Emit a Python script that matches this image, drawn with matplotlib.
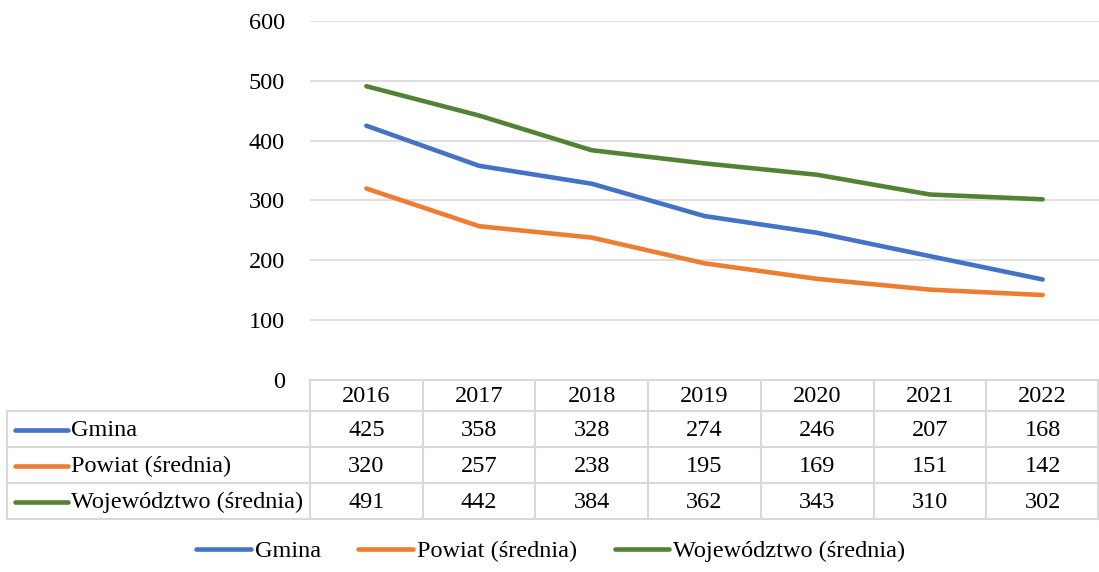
import matplotlib
matplotlib.use('Agg')
import matplotlib.pyplot as plt
from matplotlib.lines import Line2D

plt.rcParams['font.family'] = ['Liberation Serif', 'DejaVu Serif']

years = ['2016', '2017', '2018', '2019', '2020', '2021', '2022']
gmina = [425, 358, 328, 274, 246, 207, 168]
powiat = [320, 257, 238, 195, 169, 151, 142]
wojew = [491, 442, 384, 362, 343, 310, 302]
names = ['Gmina', 'Powiat (średnia)', 'Województwo (średnia)']
colors = ['#4472C4', '#ED7D31', '#548235']
series = [gmina, powiat, wojew]

W, H = 1099, 572
fs = 17.5
lw = 3.3
grid_c = '#D9D9D9'

fig = plt.figure(figsize=(W / 100, H / 100), dpi=100)

# plot area (pixel layout of the original)
x0, x1, ytop, ybot = 310, 1099, 21, 380
ax = fig.add_axes([x0 / W, 1 - ybot / H, (x1 - x0) / W, (ybot - ytop) / H])
xs = range(len(years))
for vals, c in zip(series, colors):
    ax.plot(xs, vals, color=c, lw=lw, solid_capstyle='round')
ax.set_xlim(-0.5, len(years) - 0.5)
ax.set_ylim(0, 600)
ax.set_yticks(range(0, 601, 100))
ax.yaxis.grid(True, color=grid_c, lw=1.2)
ax.set_axisbelow(True)
ax.set_xticks([])
ax.tick_params(axis='y', length=0, pad=18, labelsize=fs)
for s in ax.spines.values():
    s.set_visible(False)

# data table drawn in pixel coordinates
tax = fig.add_axes([0, 0, 1, 1])
tax.set_xlim(0, W)
tax.set_ylim(H, 0)
tax.axis('off')
colw = (x1 - x0) / len(years)
row_h = 36
head_top, head_bot = 380, 411
tleft = 7
rows_top = [head_bot + i * row_h for i in range(len(series))]
tbot = head_bot + len(series) * row_h
lk = dict(color=grid_c, lw=1.5)

tax.plot([x0, x1 - 1], [head_top, head_top], **lk)
for yt in rows_top + [tbot]:
    tax.plot([tleft, x1 - 1], [yt, yt], **lk)
for i in range(len(years) + 1):
    xv = min(x0 + i * colw, x1 - 1)
    tax.plot([xv, xv], [head_top, tbot], **lk)
tax.plot([tleft, tleft], [head_bot, tbot], **lk)

for i, yr in enumerate(years):
    tax.text(x0 + (i + 0.5) * colw, (head_top + head_bot) / 2 + 1, yr,
             ha='center', va='center', fontsize=fs)
for r, (vals, name, c) in enumerate(zip(series, names, colors)):
    yc = rows_top[r] + row_h / 2 + 1
    tax.plot([15, 68], [yc, yc], color=c, lw=lw, solid_capstyle='round')
    tax.text(71, yc, name, ha='left', va='center', fontsize=fs)
    for i, v in enumerate(vals):
        tax.text(x0 + (i + 0.5) * colw, yc, str(v), ha='center', va='center', fontsize=fs)

# legend at bottom
handles = [Line2D([], [], color=c, lw=lw, solid_capstyle='round') for c in colors]
fig.legend(handles, names, loc='center', bbox_to_anchor=(0.501, 1 - 551 / H), ncol=3,
           frameon=False, fontsize=fs, handlelength=2.25, handletextpad=0.15,
           columnspacing=1.55)

fig.savefig('out.png', dpi=100)
